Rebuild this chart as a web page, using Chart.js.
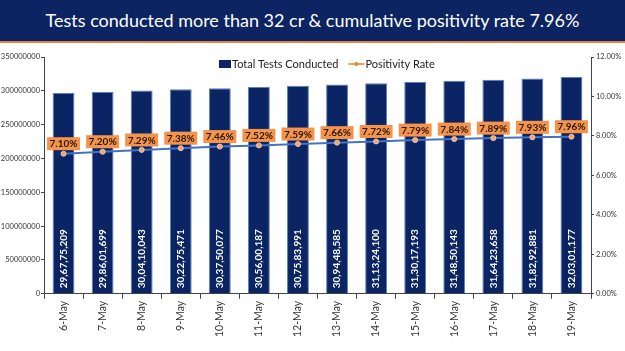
<!DOCTYPE html>
<html>
<head>
<meta charset="utf-8">
<script src="https://cdn.jsdelivr.net/npm/chart.js@4.4.1/dist/chart.umd.min.js"></script>
<style>
  html, body { margin: 0; padding: 0; background: #fff; }
  #wrap { position: relative; width: 625px; height: 351px; overflow: hidden; }
  #banner {
    position: absolute; left: 0; top: 0; width: 625px; height: 41px;
    background: #0c2461; border-bottom: 2px solid #e8823a;
    color: #fff; font-family: Lato, "Open Sans", sans-serif; font-size: 18px;
    line-height: 41px; text-align: center;
  }
  #chartBox { position: absolute; left: 0; top: 43px; width: 625px; height: 308px; }
</style>
</head>
<body>
<div id="wrap">
  <div id="banner">Tests conducted more than 32 cr &amp; cumulative positivity rate 7.96%</div>
  <div id="chartBox"><canvas id="myChart"></canvas></div>
</div>
<script>
const days = ["6-May", "7-May", "8-May", "9-May", "10-May", "11-May", "12-May",
  "13-May", "14-May", "15-May", "16-May", "17-May", "18-May", "19-May"];
const totalTests = [296775209, 298601699, 300410043, 302275471, 303750077, 305600187, 307583991,
  309448585, 311324100, 313017193, 314850143, 316423658, 318292881, 320301177];
const testLabels = ["29,67,75,209", "29,86,01,699", "30,04,10,043", "30,22,75,471", "30,37,50,077",
  "30,56,00,187", "30,75,83,991", "30,94,48,585", "31,13,24,100", "31,30,17,193", "31,48,50,143",
  "31,64,23,658", "31,82,92,881", "32,03,01,177"];
const positivity = [7.10, 7.20, 7.29, 7.38, 7.46, 7.52, 7.59, 7.66, 7.72, 7.79, 7.84, 7.89, 7.93, 7.96];

const navy = "#0b2464";
const orange = "#ed7d31";

// draws value labels and the legend, since datalabels plugin is not available
const labelPlugin = {
  id: "labels",
  afterDatasetsDraw(chart) {
    const ctx = chart.ctx;
    const bars = chart.getDatasetMeta(1).data;
    const points = chart.getDatasetMeta(0).data;
    ctx.save();

    ctx.font = "bold 10px Lato, sans-serif";
    ctx.fillStyle = "#ffffff";
    ctx.textAlign = "left";
    ctx.textBaseline = "middle";
    bars.forEach((bar, i) => {
      ctx.save();
      ctx.translate(bar.x, bar.base - 5);
      ctx.rotate(-Math.PI / 2);
      ctx.fillText(testLabels[i], 0, 0);
      ctx.restore();
    });

    ctx.font = "bold 10px Lato, sans-serif";
    ctx.textAlign = "center";
    points.forEach((pt, i) => {
      const txt = positivity[i].toFixed(2) + "%";
      const w = ctx.measureText(txt).width + 5;
      const h = 13;
      const cy = pt.y - 10;
      ctx.fillStyle = "#f4934a";
      ctx.fillRect(pt.x - w / 2, cy - h / 2, w, h);
      ctx.fillStyle = "#2b1608";
      ctx.fillText(txt, pt.x, cy + 0.5);
    });

    // legend
    const area = chart.chartArea;
    const legendY = area.top + 7;
    ctx.font = "11px Lato, sans-serif";
    ctx.textAlign = "left";
    const t1 = "Total Tests Conducted";
    const t2 = "Positivity Rate";
    const w1 = ctx.measureText(t1).width;
    let x = 219;
    ctx.fillStyle = navy;
    ctx.fillRect(x, legendY - 4, 12, 8);
    x += 13;
    ctx.fillStyle = "#222";
    ctx.fillText(t1, x, legendY);
    x += w1 + 10;
    ctx.strokeStyle = orange;
    ctx.lineWidth = 1.5;
    ctx.beginPath();
    ctx.moveTo(x, legendY);
    ctx.lineTo(x + 16, legendY);
    ctx.stroke();
    ctx.fillStyle = orange;
    ctx.beginPath();
    ctx.arc(x + 8, legendY, 2, 0, Math.PI * 2);
    ctx.fill();
    x += 17;
    ctx.fillStyle = "#222";
    ctx.fillText(t2, x, legendY);

    ctx.restore();
  }
};

const ctx = document.getElementById("myChart").getContext("2d");
const myChart = new Chart(ctx, {
  data: {
    labels: days,
    datasets: [
      {
        type: "line",
        label: "Positivity Rate",
        data: positivity,
        yAxisID: "y1",
        borderColor: "#4472c4",
        borderWidth: 2,
        pointBackgroundColor: "#e9a77a",
        pointBorderColor: "#f3c8a8",
        pointBorderWidth: 1,
        pointRadius: 2.5,
        tension: 0,
        order: 0
      },
      {
        type: "bar",
        label: "Total Tests Conducted",
        data: totalTests,
        yAxisID: "y",
        backgroundColor: navy,
        borderColor: "#5d7fbf",
        borderWidth: 1,
        barPercentage: 0.56,
        categoryPercentage: 1,
        order: 1
      }
    ]
  },
  options: {
    responsive: true,
    maintainAspectRatio: false,
    animation: false,
    layout: { padding: { top: 14, left: 0, right: 0, bottom: 12 } },
    plugins: {
      legend: { display: false },
      tooltip: { enabled: false }
    },
    scales: {
      x: {
        offset: true,
        grid: { display: true, drawOnChartArea: false, offset: true, color: "#444", tickLength: 5 },
        border: { color: "#444" },
        ticks: {
          minRotation: 90, maxRotation: 90,
          color: "#333",
          font: { family: "Lato, sans-serif", size: 10.5 },
          padding: 2
        }
      },
      y: {
        position: "left",
        min: 0, max: 350000000,
        afterFit: s => { s.width = 44; },
        grid: { drawOnChartArea: false, color: "#444", tickLength: 3 },
        border: { color: "#444" },
        ticks: {
          stepSize: 50000000,
          color: "#333",
          font: { family: "Lato, sans-serif", size: 7.5 },
          callback: v => String(v),
          padding: 1
        }
      },
      y1: {
        position: "right",
        min: 0, max: 12,
        afterFit: s => { s.width = 34; },
        grid: { drawOnChartArea: false, color: "#444", tickLength: 3 },
        border: { color: "#444" },
        ticks: {
          stepSize: 2,
          color: "#333",
          font: { family: "Lato, sans-serif", size: 7.5 },
          callback: v => v.toFixed(2) + "%",
          padding: 2
        }
      }
    }
  },
  plugins: [labelPlugin]
});
</script>
</body>
</html>
